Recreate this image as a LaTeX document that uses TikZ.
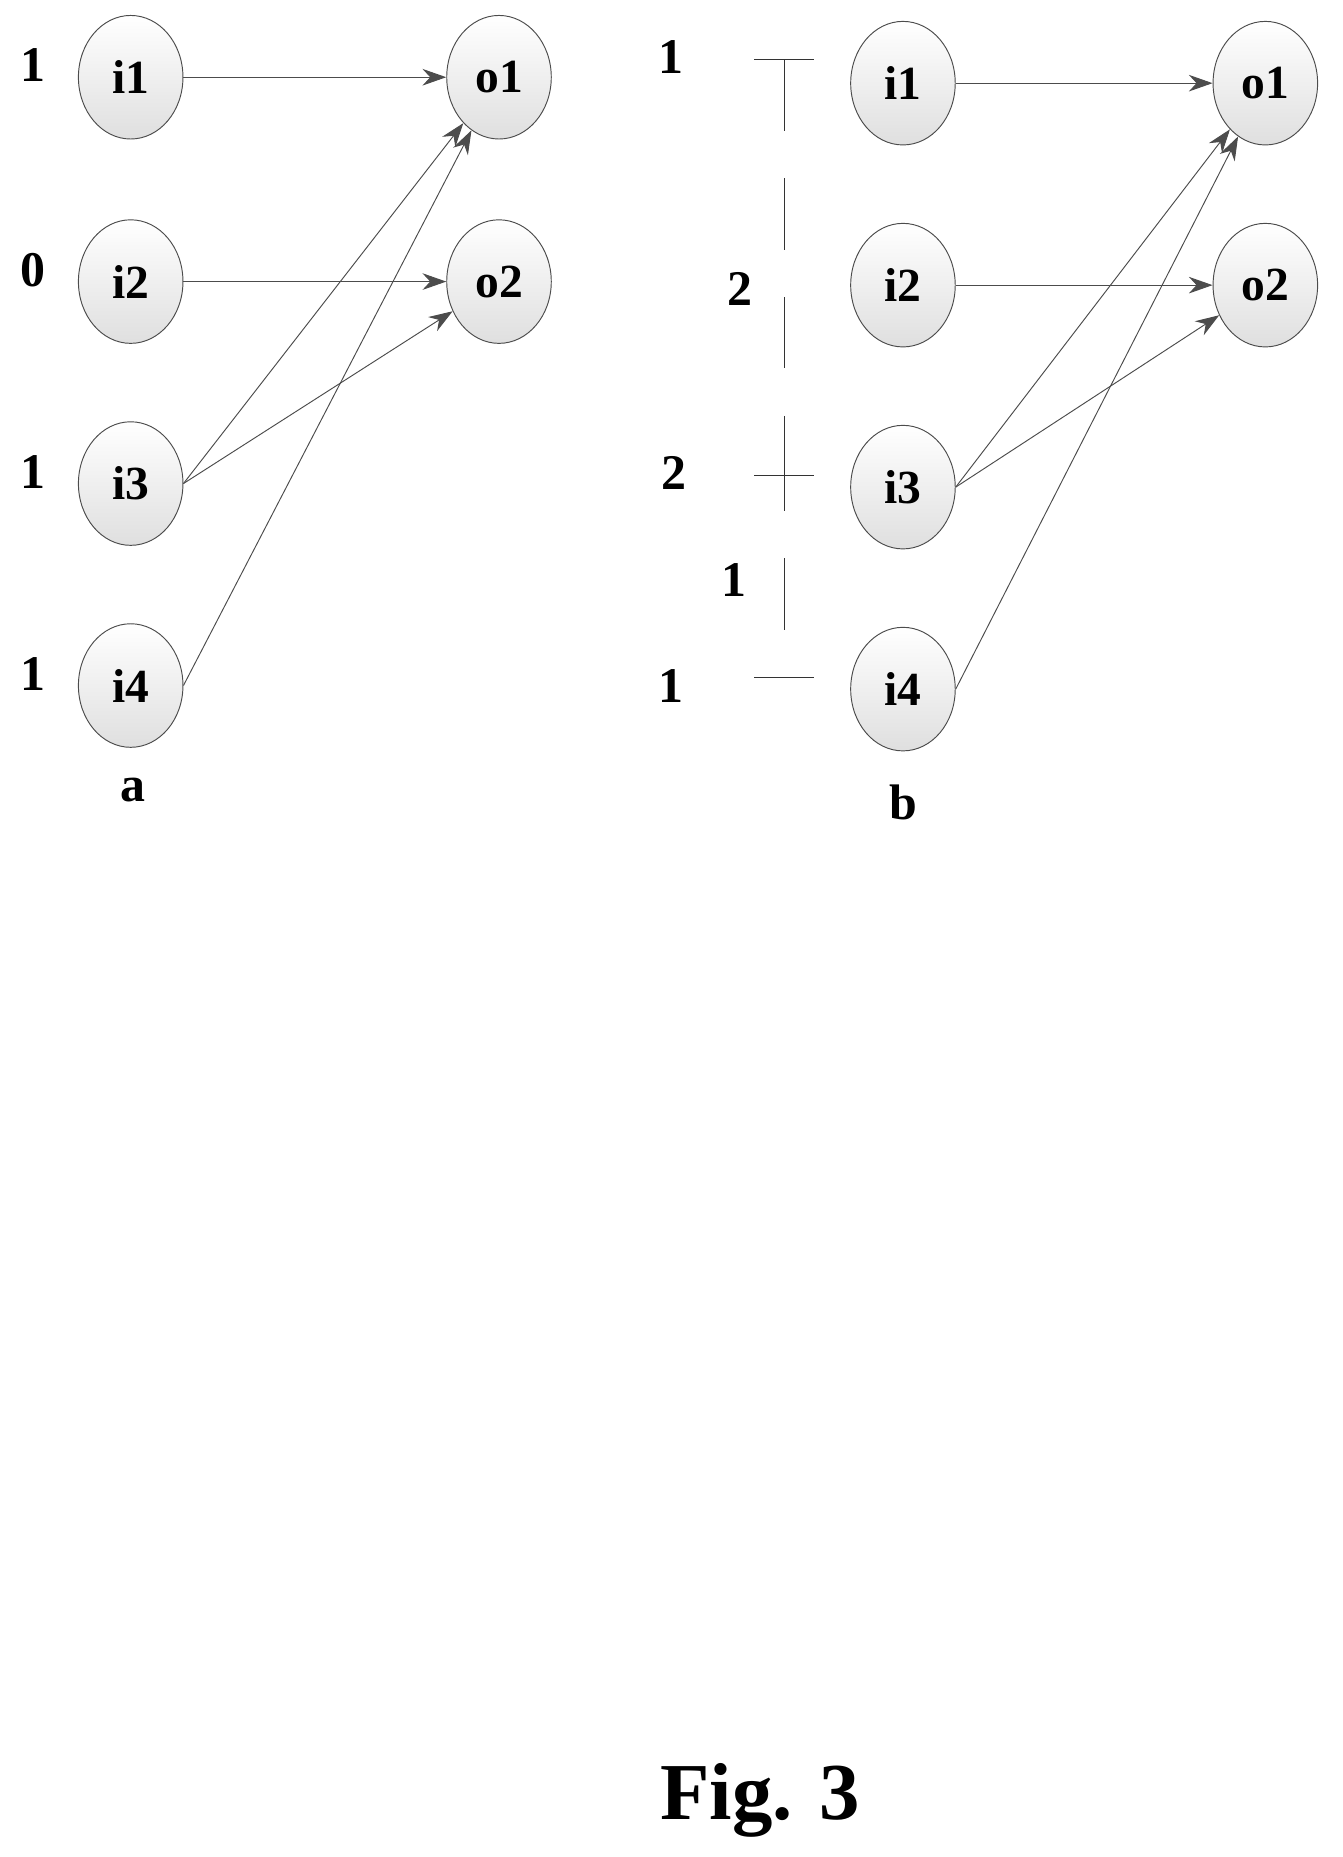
\documentclass[tikz,border=0pt]{standalone}
\usepackage{fontspec}
\setmainfont{Liberation Serif}
\usetikzlibrary{arrows.meta,shapes.geometric}
\begin{document}
\begin{tikzpicture}[x=0.5pt,y=-0.5pt,
  neuron/.style={ellipse,draw=black!70,minimum width=44pt,minimum height=52pt,inner sep=0pt,
    top color=white,bottom color=gray!25,font=\fontsize{20}{24}\selectfont\bfseries},
  weight/.style={font=\fontsize{21}{24}\selectfont\bfseries},
  link/.style={draw=black!70,-{Stealth[length=10pt,width=7pt]}}]
\useasboundingbox (0,0) rectangle (1130,1563);
% panel a
\foreach \k/\y/\w in {1/65/1,2/237/0,3/407/1,4/577/1}{
  \node[neuron] (ai\k) at (110,\y) {i\k};
  \node[weight] (aw\k) at (28,\y-10) {\w};
}
\node[neuron] (ao1) at (420,65) {o1};
\node[neuron] (ao2) at (420,237) {o2};
\node[weight] (alab) at (112,665) {a};
\draw[link] (ai1) -- (ao1);
\draw[link] (ai2) -- (ao2);
\draw[link] (ai3.east) -- (ao1);
\draw[link] (ai3.east) -- (ao2);
\draw[link] (ai4.east) -- (ao1);
% panel b
\foreach \k/\y in {1/70,2/240,3/410,4/580}{
  \node[neuron] (bi\k) at (760,\y) {i\k};
}
\node[neuron] (bo1) at (1065,70) {o1};
\node[neuron] (bo2) at (1065,240) {o2};
\node[weight] (blab) at (760,675) {b};
\draw[link] (bi1) -- (bo1);
\draw[link] (bi2) -- (bo2);
\draw[link] (bi3.east) -- (bo1);
\draw[link] (bi3.east) -- (bo2);
\draw[link] (bi4.east) -- (bo1);
% scale bar
\coordinate (t1) at (660,50);
\coordinate (t2) at (660,400);
\coordinate (t3) at (660,570);
\draw[black!80] (635,50) -- (685,50) (635,400) -- (685,400) (635,570) -- (685,570);
\draw[black!80,dash pattern=on 30pt off 20pt] (t1) -- (t2);
\draw[black!80,dash pattern=on 15pt off 20pt on 30pt off 20pt] (t2) -- (t3);
\node[weight] (bw1) at (565,48) {1};
\node[weight] (bw2) at (623,243) {2};
\node[weight] (bw3) at (567,398) {2};
\node[weight] (bw4) at (618,488) {1};
\node[weight] (bw5) at (565,577) {1};
\node[font=\fontsize{34}{40}\selectfont\bfseries] (fig) at (640,1515) {Fig. 3};
\end{tikzpicture}
\end{document}
